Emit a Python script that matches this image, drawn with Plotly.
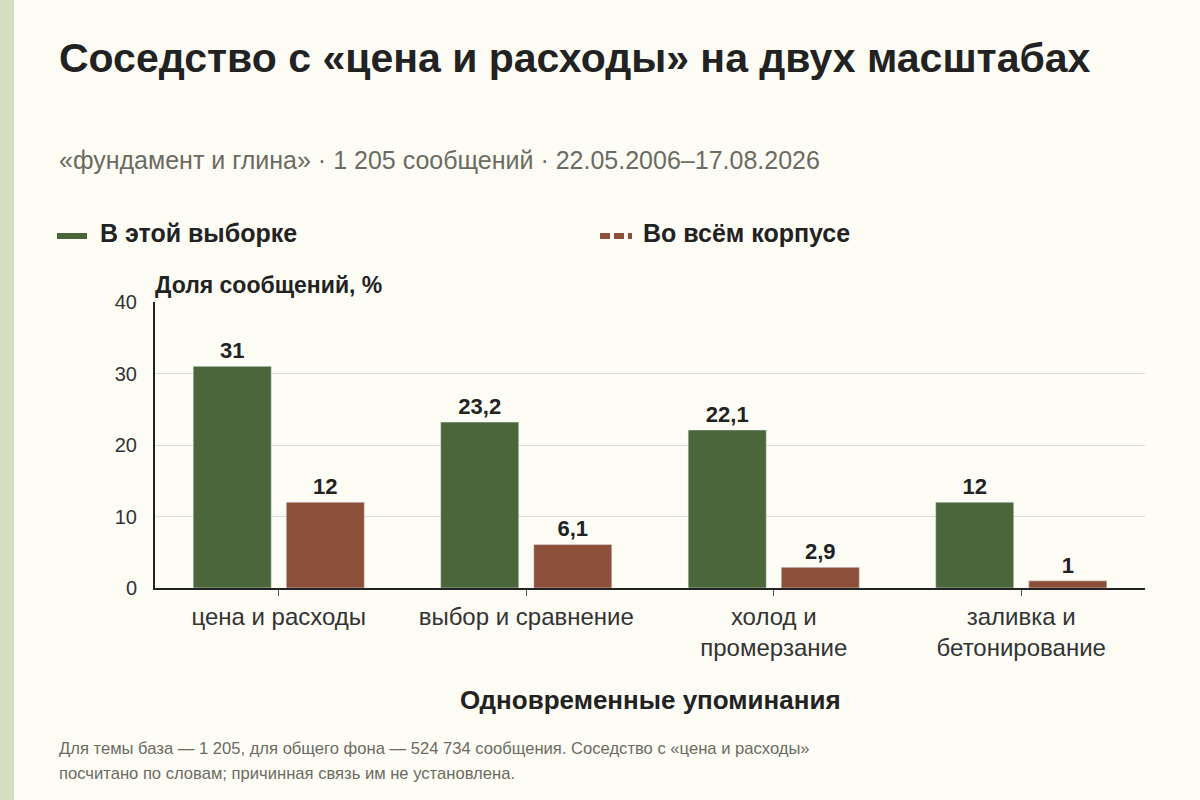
import plotly.graph_objects as go

categories = ["цена и расходы", "выбор и сравнение", "холод и<br>промерзание", "заливка и<br>бетонирование"]
sample_values = [31, 23.2, 22.1, 12]
corpus_values = [12, 6.1, 2.9, 1]
series_names = ["В этой выборке", "Во всём корпусе"]
y_ticks = [0, 10, 20, 30, 40]

GREEN = "#4a663a"
BROWN = "#8c503a"
BG = "#fdfcf5"
FONT = "Liberation Sans, Arial, sans-serif"

W, H = 1200, 800
ML, MR, MT, MB = 155, 55, 302, 212
PW, PH = W - ML - MR, H - MT - MB


def px(x):
    return (x - ML) / PW


def py(y):
    return (H - MB - y) / PH


fig = go.Figure()
fig.add_trace(go.Bar(
    x=categories, y=sample_values, name=series_names[0],
    marker=dict(color=GREEN), texttemplate="%{y}", textposition="outside",
    textfont=dict(size=22, color="#222", family=FONT, weight="bold"),
    cliponaxis=False, showlegend=False,
))
fig.add_trace(go.Bar(
    x=categories, y=corpus_values, name=series_names[1],
    marker=dict(color=BROWN), texttemplate="%{y}", textposition="outside",
    textfont=dict(size=22, color="#222", family=FONT, weight="bold"),
    cliponaxis=False, showlegend=False,
))

annotations = [
    dict(text="<b>Соседство с «цена и расходы» на двух масштабах</b>", x=px(57), y=py(58),
         xanchor="left", yanchor="middle", font=dict(size=41, color="#222")),
    dict(text="«фундамент и глина» · 1 205 сообщений · 22.05.2006–17.08.2026", x=px(57), y=py(160),
         xanchor="left", yanchor="middle", font=dict(size=25, color="#6b6b62")),
    # legend labels
    dict(text="<b>%s</b>" % series_names[0], x=px(98), y=py(233),
         xanchor="left", yanchor="middle", font=dict(size=25, color="#222")),
    dict(text="<b>%s</b>" % series_names[1], x=px(641), y=py(233),
         xanchor="left", yanchor="middle", font=dict(size=25, color="#222")),
    dict(text="<b>Доля сообщений, %</b>", x=px(153), y=py(285),
         xanchor="left", yanchor="middle", font=dict(size=23, color="#222")),
    dict(text="<b>Одновременные упоминания</b>", x=0.5, y=py(700),
         xanchor="center", yanchor="middle", font=dict(size=26, color="#222")),
    dict(text="Для темы база — 1 205, для общего фона — 524 734 сообщения. Соседство с «цена и расходы»",
         x=px(57), y=py(748), xanchor="left", yanchor="middle", align="left",
         font=dict(size=16.6, color="#6b6b62")),
    dict(text="посчитано по словам; причинная связь им не установлена.",
         x=px(57), y=py(773), xanchor="left", yanchor="middle", align="left",
         font=dict(size=16.6, color="#6b6b62")),
]
for a in annotations:
    a.update(xref="paper", yref="paper", showarrow=False)

shapes = [
    dict(type="rect", xref="paper", yref="paper", x0=px(0), x1=px(14), y0=py(H), y1=py(0),
         fillcolor="#d3dfc0", line=dict(width=0), layer="below"),
    # legend keys
    dict(type="line", xref="paper", yref="paper", x0=px(57), x1=px(87), y0=py(236), y1=py(236),
         line=dict(color=GREEN, width=6)),
    dict(type="line", xref="paper", yref="paper", x0=px(600), x1=px(632), y0=py(236), y1=py(236),
         line=dict(color=BROWN, width=6, dash="10px,4px")),
]

fig.update_layout(
    width=W, height=H,
    margin=dict(l=ML, r=MR, t=MT, b=MB, pad=0),
    paper_bgcolor=BG, plot_bgcolor=BG,
    font=dict(family=FONT, color="#333"),
    separators=", ",
    barmode="group", bargap=0.248, bargroupgap=0.161,
    showlegend=False,
    annotations=annotations,
    shapes=shapes,
    xaxis=dict(showline=True, linecolor="#222", linewidth=2, ticks="outside", ticklen=6,
               tickcolor="#555", tickwidth=1, tickfont=dict(size=24, color="#333"),
               showgrid=False, fixedrange=True),
    yaxis=dict(range=[0, 40], tickvals=y_ticks, showline=True, linecolor="#222", linewidth=2,
               showgrid=True, gridcolor="#dcdcd6", gridwidth=1, zeroline=False,
               tickfont=dict(size=20, color="#333"), ticks="", ticklabelstandoff=12,
               fixedrange=True),
)

fig.write_html("out.html", config={"displayModeBar": False},
               post_script="document.body.style.margin='0';document.body.style.background='%s';" % BG)
